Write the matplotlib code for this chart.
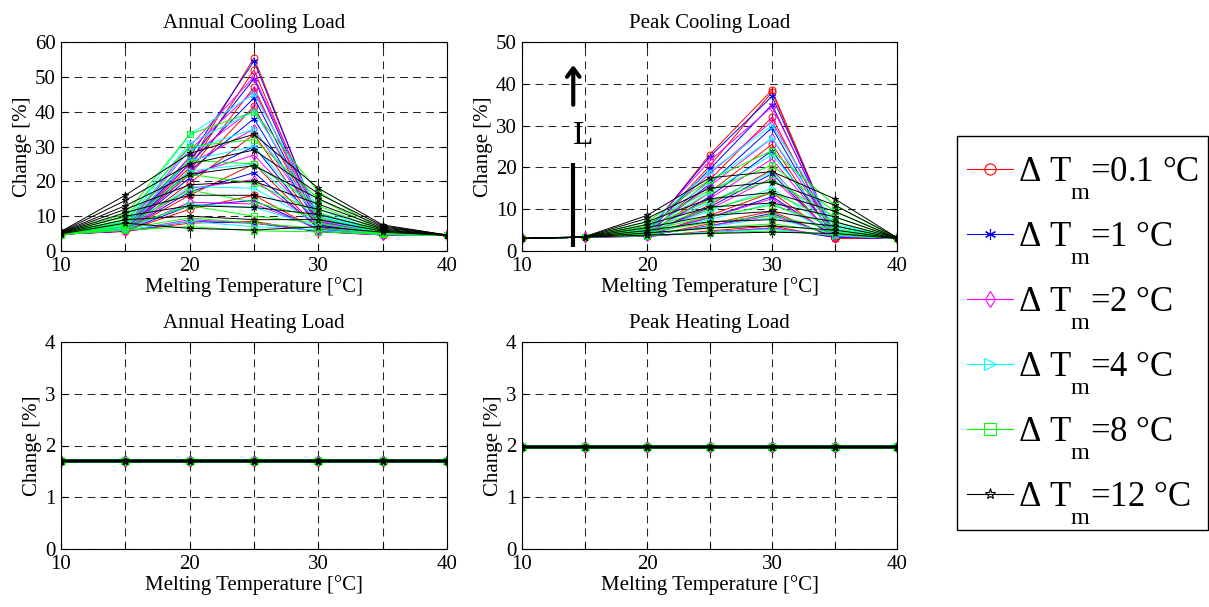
import matplotlib
matplotlib.use("Agg")
import matplotlib.pyplot as plt
import matplotlib._mathtext as mathtext_internals
from matplotlib.lines import Line2D
from matplotlib.patches import Rectangle

plt.rcParams["font.family"] = ["Liberation Serif", "DejaVu Serif"]
plt.rcParams["mathtext.fontset"] = "custom"
plt.rcParams["mathtext.rm"] = "Liberation Serif"
plt.rcParams["mathtext.it"] = "Liberation Serif:italic"
# drop subscripts further below the baseline
mathtext_internals.FontConstantsBase.sub1 = 1.1

# ---------------------------------------------------------------- data
melting_temp = [10, 15, 20, 25, 30, 35, 40]
delta_tm_labels = ["0.1", "1", "2", "4", "8", "12"]

# Annual cooling load change [%]; one row per PCM layer thickness L (largest first)
annual_cooling_dt01 = [
    [5.2, 6.5, 25.0, 55.5, 8.5, 4.8, 4.5],
    [5.1, 6.3, 24.0, 52.0, 8.0, 4.8, 4.5],
    [5.0, 6.1, 23.0, 47.0, 7.5, 4.7, 4.5],
    [5.0, 6.0, 22.0, 41.5, 7.2, 4.7, 4.5],
    [4.9, 5.9, 19.5, 33.5, 6.8, 4.6, 4.5],
    [4.9, 5.8, 16.0, 25.0, 6.5, 4.6, 4.5],
    [4.8, 5.7, 12.0, 16.0, 6.0, 4.6, 4.5],
    [4.8, 5.6, 8.0, 8.5, 5.5, 4.6, 4.5],
]
annual_cooling_dt1 = [
    [5.2, 6.5, 27.0, 54.5, 9.0, 4.9, 4.5],
    [5.1, 6.4, 26.0, 49.5, 8.5, 4.8, 4.5],
    [5.0, 6.2, 25.0, 44.0, 8.0, 4.8, 4.5],
    [5.0, 6.1, 23.0, 38.0, 7.5, 4.7, 4.5],
    [4.9, 6.0, 21.0, 30.0, 7.0, 4.7, 4.5],
    [4.9, 5.9, 17.0, 22.5, 6.6, 4.6, 4.5],
    [4.8, 5.8, 13.0, 14.5, 6.2, 4.6, 4.5],
    [4.8, 5.7, 8.5, 8.0, 5.6, 4.6, 4.5],
]
annual_cooling_dt2 = [
    [5.2, 7.0, 30.0, 50.0, 10.0, 5.0, 4.5],
    [5.1, 6.8, 29.0, 46.0, 9.5, 4.9, 4.5],
    [5.0, 6.6, 27.0, 41.0, 9.0, 4.9, 4.5],
    [5.0, 6.4, 25.0, 35.0, 8.5, 4.8, 4.5],
    [4.9, 6.2, 22.0, 27.5, 8.0, 4.8, 4.5],
    [4.9, 6.0, 18.0, 20.5, 7.2, 4.7, 4.5],
    [4.8, 5.9, 14.0, 13.5, 6.5, 4.7, 4.5],
    [4.8, 5.8, 9.0, 8.0, 5.8, 4.6, 4.5],
]
annual_cooling_dt4 = [
    [5.3, 8.5, 33.5, 45.0, 12.0, 5.3, 4.5],
    [5.2, 8.0, 31.0, 40.0, 11.0, 5.2, 4.5],
    [5.1, 7.6, 29.0, 35.0, 10.5, 5.1, 4.5],
    [5.0, 7.2, 26.0, 30.0, 10.0, 5.0, 4.5],
    [5.0, 6.9, 23.0, 25.0, 9.0, 5.0, 4.5],
    [4.9, 6.6, 18.5, 18.0, 8.0, 4.9, 4.5],
    [4.9, 6.3, 13.5, 12.5, 7.0, 4.8, 4.5],
    [4.8, 6.0, 8.5, 7.0, 6.0, 4.7, 4.5],
]
annual_cooling_dt8 = [
    [5.4, 10.5, 33.5, 40.0, 17.0, 6.0, 4.5],
    [5.3, 9.8, 30.0, 32.0, 15.0, 5.8, 4.5],
    [5.2, 9.0, 26.0, 25.0, 13.0, 5.6, 4.5],
    [5.1, 8.3, 22.0, 19.5, 11.0, 5.4, 4.5],
    [5.0, 7.6, 17.5, 14.0, 9.5, 5.2, 4.5],
    [4.9, 7.0, 13.0, 10.0, 8.0, 5.0, 4.5],
    [4.8, 6.4, 9.5, 8.0, 6.5, 4.9, 4.5],
    [4.7, 6.0, 7.0, 5.8, 5.5, 4.8, 4.5],
]
annual_cooling_dt12 = [
    [5.6, 16.0, 28.0, 33.5, 18.0, 7.5, 4.6],
    [5.5, 14.5, 25.0, 29.0, 16.5, 7.2, 4.6],
    [5.4, 13.0, 22.0, 24.5, 15.0, 6.9, 4.6],
    [5.3, 12.0, 19.0, 20.0, 13.5, 6.6, 4.6],
    [5.2, 11.0, 16.0, 16.0, 12.0, 6.3, 4.5],
    [5.1, 10.0, 13.0, 12.5, 10.5, 6.0, 4.5],
    [5.0, 9.0, 10.0, 9.0, 9.0, 5.7, 4.5],
    [4.9, 8.0, 6.5, 6.0, 7.0, 5.4, 4.5],
]

# Peak cooling load change [%]
peak_cooling_dt01 = [
    [3.0, 3.3, 4.2, 23.0, 38.5, 3.2, 3.0],
    [3.0, 3.3, 4.1, 20.3, 38.0, 3.2, 3.0],
    [3.0, 3.3, 4.0, 17.0, 32.0, 3.2, 3.0],
    [3.0, 3.3, 3.9, 14.0, 25.5, 3.2, 3.0],
    [3.0, 3.3, 3.8, 11.0, 19.5, 3.2, 3.0],
    [3.0, 3.3, 3.7, 8.5, 14.0, 3.2, 3.0],
    [3.0, 3.3, 3.6, 6.5, 9.5, 3.2, 3.0],
    [3.0, 3.3, 3.5, 4.8, 6.0, 3.2, 3.0],
]
peak_cooling_dt1 = [
    [3.0, 3.3, 4.5, 22.5, 37.0, 3.6, 3.0],
    [3.0, 3.3, 4.4, 19.5, 35.0, 3.6, 3.0],
    [3.0, 3.3, 4.3, 16.0, 29.5, 3.5, 3.0],
    [3.0, 3.3, 4.1, 13.0, 24.0, 3.5, 3.0],
    [3.0, 3.3, 4.0, 10.5, 18.5, 3.4, 3.0],
    [3.0, 3.3, 3.8, 8.0, 13.0, 3.4, 3.0],
    [3.0, 3.3, 3.7, 6.0, 9.0, 3.3, 3.0],
    [3.0, 3.3, 3.5, 4.5, 5.5, 3.3, 3.0],
]
peak_cooling_dt2 = [
    [3.0, 3.3, 5.0, 21.5, 34.5, 4.5, 3.0],
    [3.0, 3.3, 4.8, 18.5, 31.0, 4.3, 3.0],
    [3.0, 3.3, 4.6, 15.5, 27.0, 4.2, 3.0],
    [3.0, 3.3, 4.4, 12.5, 22.0, 4.0, 3.0],
    [3.0, 3.3, 4.2, 10.0, 17.5, 3.9, 3.0],
    [3.0, 3.3, 4.0, 8.0, 12.5, 3.8, 3.0],
    [3.0, 3.3, 3.8, 6.0, 8.5, 3.6, 3.0],
    [3.0, 3.3, 3.6, 4.5, 5.5, 3.5, 3.0],
]
peak_cooling_dt4 = [
    [3.0, 3.3, 5.8, 19.0, 30.0, 6.5, 3.0],
    [3.0, 3.3, 5.5, 16.5, 27.0, 6.0, 3.0],
    [3.0, 3.3, 5.2, 14.0, 23.0, 5.5, 3.0],
    [3.0, 3.3, 4.9, 11.5, 19.0, 5.0, 3.0],
    [3.0, 3.3, 4.6, 9.5, 15.0, 4.6, 3.0],
    [3.0, 3.3, 4.3, 7.5, 11.5, 4.3, 3.0],
    [3.0, 3.3, 4.0, 5.8, 8.0, 4.0, 3.0],
    [3.0, 3.3, 3.7, 4.5, 5.2, 3.7, 3.0],
]
peak_cooling_dt8 = [
    [3.0, 3.3, 7.0, 17.0, 24.0, 11.0, 3.0],
    [3.0, 3.3, 6.4, 14.5, 20.5, 9.5, 3.0],
    [3.0, 3.3, 5.9, 12.0, 17.0, 8.2, 3.0],
    [3.0, 3.3, 5.4, 10.0, 14.0, 7.0, 3.0],
    [3.0, 3.3, 4.9, 8.2, 11.0, 6.0, 3.0],
    [3.0, 3.3, 4.5, 6.8, 8.5, 5.2, 3.0],
    [3.0, 3.3, 4.1, 5.5, 6.5, 4.5, 3.0],
    [3.0, 3.3, 3.7, 4.3, 4.8, 3.9, 3.0],
]
peak_cooling_dt12 = [
    [3.0, 3.4, 8.5, 17.5, 19.0, 12.5, 3.2],
    [3.0, 3.4, 7.8, 15.0, 16.5, 11.0, 3.2],
    [3.0, 3.4, 7.0, 12.5, 14.0, 9.5, 3.1],
    [3.0, 3.3, 6.3, 10.5, 11.5, 8.2, 3.1],
    [3.0, 3.3, 5.6, 8.5, 9.5, 7.0, 3.1],
    [3.0, 3.3, 4.9, 7.0, 7.5, 6.0, 3.0],
    [3.0, 3.3, 4.3, 5.5, 6.0, 5.0, 3.0],
    [3.0, 3.3, 3.8, 4.2, 4.5, 4.2, 3.0],
]

# Heating load change [%] is the same for every case
annual_heating = [1.70, 1.70, 1.70, 1.70, 1.70, 1.70, 1.70]
peak_heating = [1.97, 1.97, 1.97, 1.97, 1.97, 1.97, 1.97]

annual_cooling = [annual_cooling_dt01, annual_cooling_dt1, annual_cooling_dt2,
                  annual_cooling_dt4, annual_cooling_dt8, annual_cooling_dt12]
peak_cooling = [peak_cooling_dt01, peak_cooling_dt1, peak_cooling_dt2,
                peak_cooling_dt4, peak_cooling_dt8, peak_cooling_dt12]
n_thickness = 8

# ---------------------------------------------------------------- styles
colors = ["#ff0000", "#0000ff", "#ff00ff", "#00ffff", "#00ff00", "#000000"]
markers = ["o", (6, 2, 0), "d", ">", "s", "*"]
FS = 15

W, H = 1209, 607
fig = plt.figure(figsize=(W / 100, H / 100), dpi=100)


def px_axes(x0, y0, x1, y1):
    return fig.add_axes([x0 / W, 1 - y1 / H, (x1 - x0) / W, (y1 - y0) / H])


def style(ax, title, ymax, ystep):
    ax.set_xlim(10, 40)
    ax.set_ylim(0, ymax)
    ax.set_xticks(range(10, 41, 5))
    ax.set_xticklabels(["10", "", "20", "", "30", "", "40"])
    ax.set_yticks(range(0, ymax + 1, ystep))
    ax.tick_params(direction="in", top=True, right=True, length=4,
                   width=0.8, labelsize=FS, pad=4)
    ax.grid(True, color="0.15", lw=0.75, linestyle=(0, (7.5, 5)))
    ax.set_axisbelow(True)
    for s in ax.spines.values():
        s.set_linewidth(0.8)
    ax.set_title(title, fontsize=FS, pad=10)
    ax.set_xlabel("Melting Temperature [°C]", fontsize=FS, labelpad=1)
    ax.set_ylabel("Change [%]", fontsize=FS, labelpad=2)


ax_ac = px_axes(61, 42, 447, 251)
ax_pc = px_axes(522, 42, 897, 251)
ax_ah = px_axes(61, 342, 447, 549)
ax_ph = px_axes(522, 342, 897, 549)

for ax, data in ((ax_ac, annual_cooling), (ax_pc, peak_cooling)):
    for rows, c, m in zip(data, colors, markers):
        for row in rows:
            ax.plot(melting_temp, row, color=c, lw=0.7, marker=m, ms=5,
                    mfc="none", mec=c, mew=0.7)

for ax, y in ((ax_ah, annual_heating), (ax_ph, peak_heating)):
    for c, m in zip(colors, markers):
        for _ in range(n_thickness):
            ax.plot(melting_temp, y, color=c, lw=1.6, marker=m, ms=5,
                    mfc="none", mec=c, mew=1.0)

style(ax_ac, "Annual Cooling Load", 60, 10)
style(ax_pc, "Peak Cooling Load", 50, 10)
style(ax_ah, "Annual Heating Load", 4, 1)
style(ax_ph, "Peak Heating Load", 4, 1)

# thickness direction marker
ax_pc.plot([14.1, 14.1], [1, 21], color="k", lw=3, solid_capstyle="butt")
ax_pc.text(14.9, 27.5, "L", fontsize=24, ha="center", va="center")
ax_pc.annotate("", xy=(14.1, 44.5), xytext=(14.1, 35),
               arrowprops=dict(arrowstyle="->,head_length=0.6,head_width=0.45",
                               lw=3, color="k", shrinkA=0, shrinkB=0))

# legend: entries placed inside a hand-drawn frame
handles = [Line2D([], [], color=c, lw=0.8, marker=m, ms=8, mfc="none",
                  mec=c, mew=0.8) for c, m in zip(colors, markers)]
labels = [r"$\Delta$ T$_{\mathrm{m}}$=" + v + " °C" for v in delta_tm_labels]
fig.legend(handles, labels, loc="upper left",
           bbox_to_anchor=(967 / W, 1 - 154 / H), borderaxespad=0,
           fontsize=25, frameon=False, handlelength=1.33,
           handletextpad=0.15, labelspacing=0.5, borderpad=0)
fig.patches.append(Rectangle((957 / W, 1 - 530 / H), 251 / W, 394 / H,
                             transform=fig.transFigure, fill=False,
                             edgecolor="k", lw=1.0))

fig.savefig("out.png", dpi=100)
